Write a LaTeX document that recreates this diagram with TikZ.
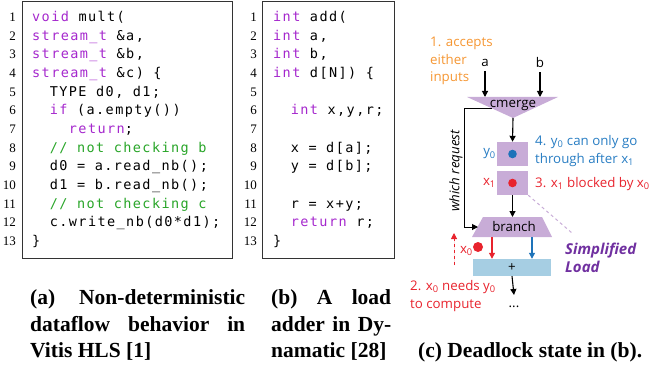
\documentclass[tikz,border=0pt]{standalone}
\usepackage{fontspec}
\setmainfont{Liberation Serif}
\newfontfamily\codefont[LetterSpace=10.5]{DejaVu Sans Mono}
\newfontfamily\lblfont{Open Sans}
\usetikzlibrary{arrows.meta}

\definecolor{kwpurple}{RGB}{165,40,205}
\definecolor{cmgreen}{RGB}{40,165,40}
\definecolor{lav}{RGB}{200,172,215}
\definecolor{pluscol}{RGB}{166,206,227}
\definecolor{lblorange}{RGB}{245,150,50}
\definecolor{lblred}{RGB}{232,35,45}
\definecolor{lblblue}{RGB}{40,125,195}
\definecolor{dotblue}{RGB}{30,115,185}
\definecolor{slpurple}{RGB}{112,48,160}

\newcommand\kw[1]{\textcolor{kwpurple}{#1}}
\newcommand\cmt[1]{\textcolor{cmgreen}{#1}}
\newcommand\ind[1]{\hphantom{#1}}

\begin{document}
\begin{tikzpicture}[x=1pt,y=-1pt,
  codebox/.style={draw=black!80, line width=0.8pt},
  lnum/.style={anchor=base east, inner sep=0pt, font=\fontsize{13}{13}\selectfont},
  code/.style={anchor=base west, inner sep=0pt, font=\codefont\fontsize{13.5}{13.5}\selectfont},
  lbl/.style={inner sep=0pt, font=\lblfont\fontsize{13.3}{17.5}\selectfont},
  captext/.style={anchor=base west, inner sep=0pt, font=\bfseries\fontsize{21.5}{21.5}\selectfont},
  arr/.style={-{Triangle[length=6pt,width=6pt]}, line width=1.1pt},
  purplebox/.style={fill=lav, minimum width=31pt, minimum height=24pt, inner sep=0pt},
]
\useasboundingbox (0,0) rectangle (652,371);

% ---------- (a) Vitis HLS listing ----------
\draw[codebox] (22,1) rectangle (232,258);
\foreach \i in {1,...,13}
  \node[lnum] (na\i) at (16,{21.5+18.67*(\i-1)}) {\i};
\node[code] (a1)  at (32,21.5)  {\kw{void} mult(};
\node[code] (a2)  at (32,40.2)  {\kw{stream\_t} \&a,};
\node[code] (a3)  at (32,58.8)  {\kw{stream\_t} \&b,};
\node[code] (a4)  at (32,77.5)  {\kw{stream\_t} \&c) \{};
\node[code] (a5)  at (32,96.2)  {\ind{xx}TYPE d0, d1;};
\node[code] (a6)  at (32,114.9) {\ind{xx}\kw{if} (a.empty())};
\node[code] (a7)  at (32,133.5) {\ind{xxxx}\kw{return};};
\node[code] (a8)  at (32,152.2) {\ind{xx}\cmt{// not checking b}};
\node[code] (a9)  at (32,170.9) {\ind{xx}d0 = a.read\_nb();};
\node[code] (a10) at (32,189.5) {\ind{xx}d1 = b.read\_nb();};
\node[code] (a11) at (32,208.2) {\ind{xx}\cmt{// not checking c}};
\node[code] (a12) at (32,226.9) {\ind{xx}c.write\_nb(d0*d1);};
\node[code] (a13) at (32,245.5) {\}};

% ---------- (b) Dynamatic listing ----------
\draw[codebox] (262,1) rectangle (394,258);
\foreach \i in {1,...,13}
  \node[lnum] (nb\i) at (257,{21.5+18.67*(\i-1)}) {\i};
\node[code] (b1)  at (273,21.5)  {\kw{int} add(};
\node[code] (b2)  at (273,40.2)  {\kw{int} a,};
\node[code] (b3)  at (273,58.8)  {\kw{int} b,};
\node[code] (b4)  at (273,77.5)  {\kw{int} d[N]) \{};
\node[code] (b6)  at (273,114.9) {\ind{xx}\kw{int} x,y,r;};
\node[code] (b8)  at (273,152.2) {\ind{xx}x = d[a];};
\node[code] (b9)  at (273,170.9) {\ind{xx}y = d[b];};
\node[code] (b11) at (273,208.2) {\ind{xx}r = x+y;};
\node[code] (b12) at (273,226.9) {\ind{xx}\kw{return} r;};
\node[code] (b13) at (273,245.5) {\}};

% ---------- captions ----------
\node[captext] (capa1) at (30,304) {\makebox[215pt][s]{(a) Non-deterministic}};
\node[captext] (capa2) at (30,331) {\makebox[215pt][s]{dataflow behavior in}};
\node[captext] (capa3) at (30,357) {Vitis HLS [1]};
\node[captext] (capb1) at (271,304) {\makebox[120pt][s]{(b) A load}};
\node[captext] (capb2) at (271,331) {\makebox[120pt][s]{adder in Dy-}};
\node[captext] (capb3) at (271,357) {namatic [28]};
\node[captext] (capc)  at (418,357) {(c) Deadlock state in (b).};

% ---------- (c) deadlock state ----------
% inputs
\node[lbl, text=lblorange, align=left, anchor=west] (accepts) at (430,61) {1. accepts\\either\\inputs};
\node[lbl] (ina) at (485,63) {a};
\node[lbl] (inb) at (540,63) {b};
\coordinate (cmA) at (485,97);
\coordinate (cmB) at (540,97);
\draw[arr, shorten <=4pt] (ina.south) -- (cmA);
\draw[arr, shorten <=4pt] (inb.south) -- (cmB);

% cmerge
\fill[lav] (467,97) -- (558,97) -- (513,118) -- cycle;
\node[lbl] (cmerge) at (513,105) {cmerge};
\coordinate (cmApex) at (513,118);
\coordinate (cmLeft) at (492,109);

% buffer slots
\node[purplebox] (ybox) at (512.5,154) {};
\node[purplebox] (xbox) at (512.5,183) {};
\fill[dotblue] (ybox.center) circle (4.3);
\fill[lblred] (xbox.center) circle (4.3);
\node[lbl, text=lblblue, anchor=east] (ylab) at (496,154) {y\textsubscript{0}};
\node[lbl, text=lblred, anchor=east] (xlab) at (496,183) {x\textsubscript{1}};
\draw[arr] (cmApex) -- (ybox.north);

% branch
\fill[lav] (483,217) -- (542,217) -- (552,237) -- (472,237) -- cycle;
\node[lbl] (branch) at (514,227) {branch};
\coordinate (brTop) at (512.5,217);
\coordinate (brLeft) at (478,227);
\coordinate (wrCorner) at (464,109);
\draw[arr] (xbox.south) -- (brTop);
\draw[arr, line width=1pt] (cmLeft) -- (wrCorner) |- (brLeft);
\node[lbl, rotate=90, font=\lblfont\itshape\fontsize{13.3}{13.3}\selectfont] (which) at (456,171) {which request};

% adder
\node[fill=pluscol, minimum width=78pt, minimum height=17pt, inner sep=0pt, font=\lblfont\fontsize{13.3}{13.3}\selectfont] (plus) at (512,267.5) {+};
\coordinate (brOutR) at (492,237);
\coordinate (brOutB) at (532,237);
\draw[arr, draw=lblred, fill=lblred] (brOutR) -- (brOutR |- plus.north);
\draw[arr, draw=dotblue, fill=dotblue] (brOutB) -- (brOutB |- plus.north);
\node[lbl] (dots) at (514,307) {...};
\coordinate (dotsTop) at (514,295);
\draw[arr] (plus.south) -- (dotsTop);

% pending token x0
\coordinate (x0dot) at (478,247);
\fill[lblred] (x0dot) circle (5);
\node[lbl, text=lblred, anchor=east] (x0lab) at (473,251) {x\textsubscript{0}};
\coordinate (upFrom) at (454,265);
\coordinate (upTo) at (454,233);
\draw[arr, draw=lblred, fill=lblred, dashed, line width=1pt] (upFrom) -- (upTo);

% simplified load marker
\coordinate (slEnd) at (572,233);
\draw[lav, dashed, line width=1pt] (xbox.south east) -- (slEnd);
\node[lbl, text=slpurple, anchor=west, align=left, font=\lblfont\bfseries\itshape\fontsize{15}{17.5}\selectfont] (simp) at (565,258) {Simplified\\Load};

% annotations
\node[lbl, text=lblblue, anchor=west, align=left] (note4) at (535,151) {4. y\textsubscript{0} can only go\\through after x\textsubscript{1}};
\node[lbl, text=lblred, anchor=west] (note3) at (535,184) {3. x\textsubscript{1} blocked by x\textsubscript{0}};
\node[lbl, text=lblred, anchor=west, align=left] (note2) at (410,296) {2. x\textsubscript{0} needs y\textsubscript{0}\\to compute};
\end{tikzpicture}
\end{document}
